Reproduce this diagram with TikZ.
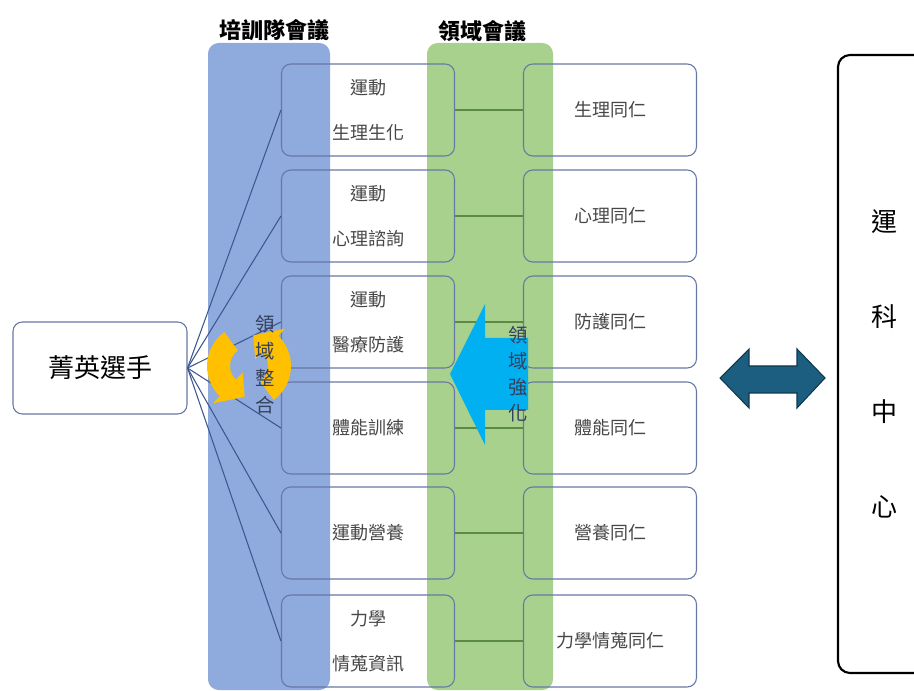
\documentclass[tikz,border=0pt]{standalone}
\usepackage{fontspec}
\setmainfont{Noto Sans CJK TC}
\usetikzlibrary{calc}
\definecolor{teamblue}{HTML}{8FAADC}
\definecolor{fieldgreen}{HTML}{A9D18E}
\definecolor{boxline}{HTML}{6878A6}
\definecolor{fanline}{HTML}{3D5890}
\definecolor{linkgreen}{HTML}{5A8A44}
\definecolor{ringorange}{HTML}{FFC000}
\definecolor{pushblue}{HTML}{00B0F0}
\definecolor{swapteal}{HTML}{1B5E80}
\definecolor{verttext}{HTML}{34405C}
\newcommand*{\boxfont}{\fontsize{13.5}{33.75}\selectfont}
\newcommand*{\bigfont}{\fontsize{19.5}{24}\selectfont}

\begin{document}
\begin{tikzpicture}[x=0.75pt, y=-0.75pt]
      \useasboundingbox (0,0) rectangle (914,691);

      \fill[teamblue, rounded corners=8pt] (208,43) rectangle (330,690);
      \fill[fieldgreen, rounded corners=8pt] (427,43) rectangle (553,690);

      {\tikzstyle{every node}=[font=\bfseries\fontsize{16.5}{20}\selectfont]
        \node (teamtitle) at (274,30) {培訓隊會議};
        \node (fieldtitle) at (482,31) {領域會議};
      }

      {\tikzstyle{every node}=[draw=boxline, thick, rounded corners=7pt,
          minimum width=129.75pt, minimum height=69pt, align=center,
          text=black!72, font=\boxfont]
        \foreach \i/\y/\lt/\rt in {1/110/{運動\\生理生化}/生理同仁,
            2/216/{運動\\心理諮詢}/心理同仁,
            3/322/{運動\\醫療防護}/防護同仁,
            4/428/體能訓練/體能同仁,
            5/533/運動營養/營養同仁,
            6/641/{力學\\情蒐資訊}/力學情蒐同仁}
        {
          \node (t\i) at (368,\y) {\lt};
          \node (d\i) at (610,\y) {\rt};
        }
        \node (elite) at (100,368) [minimum width=130.5pt, text=black,
          font=\bigfont] {菁英選手};
      }

      \foreach \i in {1, ..., 6}
      {
        \draw[fanline, line width=0.8pt] (elite.east) -- (t\i.west);
        \draw[linkgreen, thick] (t\i.east) -- (d\i.west);
      }

      \coordinate (ring) at (249,366);
      \foreach \tail/\base/\tip in {-126/-226/-262, 54/-46/-82}
      {
        \fill[ringorange] (ring) ++(\tail:42)
          arc[start angle=\tail, end angle=\base, radius=42]
          -- ($(ring)+(\base:52)$) -- ($(ring)+(\tip:31)$)
          -- ($(ring)+(\base:9)$) -- ($(ring)+(\base:19)$)
          arc[start angle=\base, end angle=\tail, radius=19] -- cycle;
      }
      \node (merge) at (265,365) [align=center, text=verttext,
        font=\fontsize{14.5}{20.25}\selectfont] {領\\域\\整\\合};

      \fill[pushblue] (450,374) -- (485,304) -- (485,338) -- (528,338)
        -- (528,410) -- (485,410) -- (485,445) -- cycle;
      \node (boost) at (518,374) [align=center, text=verttext,
        font=\fontsize{14.5}{19.5}\selectfont] {領\\域\\強\\化};

      \filldraw[fill=swapteal, draw=swapteal!60!black, thick]
        (720,378) -- (749,349) -- (749,366) -- (797,366) -- (797,349)
        -- (825,378) -- (797,408) -- (797,393) -- (749,393) -- (749,408) -- cycle;

      \begin{scope}
        \clip (0,0) rectangle (914,691);
        \node (hub) at (884,364) [draw, line width=1.6pt, rounded corners=9pt,
          minimum width=69pt, minimum height=463.5pt, align=center,
          font=\fontsize{19.5}{71.25}\selectfont] {運\\科\\中\\心};
      \end{scope}
    \end{tikzpicture}
\end{document}
